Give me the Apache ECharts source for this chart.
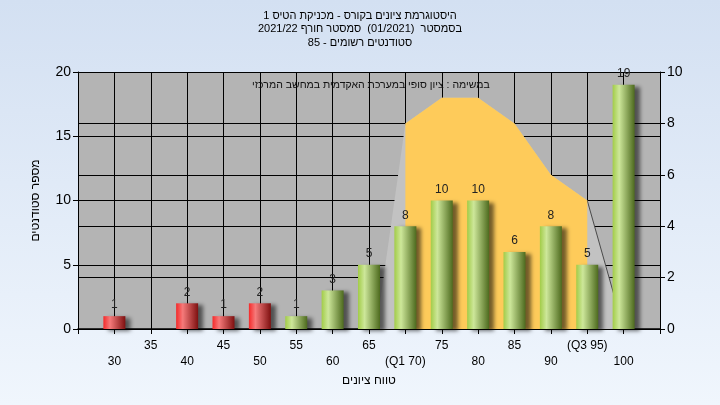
<!DOCTYPE html>
<html><head><meta charset="utf-8">
<script src="https://cdn.jsdelivr.net/npm/echarts@6/dist/echarts.min.js"></script>
<style>html,body{margin:0;padding:0;}#c{width:720px;height:405px;}</style>
</head><body><div id="c"></div>
<script>
const titleLines = ["היסטוגרמת ציונים בקורס - מכניקת הטיס 1", "בסמסטר  (01/2021)  סמסטר חורף 2021/22", "סטודנטים רשומים - 85"];
const noteText = "במשימה : ציון סופי במערכת האקדמית במחשב המרכזי";
const xTitle = "טווח ציונים";
const yTitle = "מספר סטודנטים";
const scores = [30,35,40,45,50,55,60,65,70,75,80,85,90,95,100];
const counts = [1,0,2,1,2,1,3,5,8,10,10,6,8,5,19];
const passMark = 55;
const q1 = 70, q3 = 95;
const bandX = [70,75,80,85,90,95];
const bandY = [8,9,9,8,6,5];
const tailStart = 66, tailEnd = 100;

const FONT = "'Liberation Sans','DejaVu Sans',sans-serif";

const grad = (c0,c1,c2) => ({type:'linear',x:0,y:0,x2:1,y2:0,colorStops:[
  {offset:0,color:c0},{offset:0.3,color:c1},{offset:1,color:c2}]});
const red = grad('#f42a2a','#f57a7a','#7e1010');
const green = grad('#a2cc48','#cde79a','#4d6a1e');

const barData = scores.map((s,i)=>({value:[s,counts[i]], itemStyle:{color: s<passMark?red:green}}));
const orange = [[bandX[0],0]].concat(bandX.map((x,i)=>[x,bandY[i]])).concat([[bandX[bandX.length-1],0]]);
const tail = [[tailStart,0]].concat(bandX.map((x,i)=>[x,bandY[i]])).concat([[tailEnd,0]]);
const edge = [[bandX[bandX.length-1],bandY[bandY.length-1]],[tailEnd,0]];

const chart = echarts.init(document.getElementById('c'));
chart.setOption({
  animation:false,
  backgroundColor:{type:'linear',x:0,y:0,x2:0,y2:1,colorStops:[{offset:0,color:'#d3e0f2'},{offset:1,color:'#f0f6fd'}]},
  title: titleLines.map((l,i)=>({text: l, left:'center', top:10 + i*13.5, padding:0,
      textStyle:{fontFamily:FONT,fontSize:11,fontWeight:'normal',color:'#000'}}))
    .concat([{text: noteText, left:252, top:80, padding:0,
      textStyle:{fontFamily:FONT,fontSize:10.5,fontWeight:'normal',color:'#111'}}]),
  grid:{left:78,right:60,top:72,bottom:76,show:true,backgroundColor:'#b4b4b4',borderWidth:0},
  xAxis:{type:'value',min:25,max:105,interval:5,
    name: xTitle, nameLocation:'middle', nameGap:46,
    nameTextStyle:{fontFamily:FONT,fontSize:12,color:'#000'},
    axisLine:{lineStyle:{color:'#000',width:1.5}},
    axisTick:{show:true,length:5,lineStyle:{color:'#000'}},
    splitLine:{show:true,lineStyle:{color:'#000',width:1}},
    axisLabel:{fontFamily:FONT,fontSize:12,color:'#000',margin:9,lineHeight:16,showMinLabel:true,showMaxLabel:true,
      formatter:v=>{
        if(scores.indexOf(v)<0) return '';
        let t = v===q1?'(Q1 '+v+')':(v===q3?'(Q3 '+v+')':String(v));
        return ((v-scores[0])/5)%2===0 ? '\n'+t : t;
      }}
  },
  yAxis:[
    {type:'value',min:0,max:20,interval:5,position:'left',
     name:yTitle,nameLocation:'middle',nameGap:36,nameRotate:90,
     nameTextStyle:{fontFamily:FONT,fontSize:12,color:'#000'},
     axisLine:{show:true,lineStyle:{color:'#000',width:1}},
     axisTick:{show:true,length:5,lineStyle:{color:'#000'}},
     splitLine:{show:true,lineStyle:{color:'#000',width:1}},
     axisLabel:{fontFamily:FONT,fontSize:14,color:'#000',margin:7}},
    {type:'value',min:0,max:10,interval:2,position:'right',
     axisLine:{show:true,lineStyle:{color:'#000',width:1}},
     axisTick:{show:true,length:5,lineStyle:{color:'#000'}},
     splitLine:{show:true,lineStyle:{color:'#000',width:1}},
     axisLabel:{fontFamily:FONT,fontSize:14,color:'#000',margin:7}}
  ],
  series:[
    {type:'line',yAxisIndex:1,data:tail,symbol:'none',lineStyle:{width:0},areaStyle:{color:'#c2c2c2',opacity:1},z:1},
    {type:'line',yAxisIndex:1,data:edge,symbol:'none',lineStyle:{width:1,color:'#4a4a4a'},z:1},
    {type:'line',yAxisIndex:1,data:orange,symbol:'none',lineStyle:{width:0},areaStyle:{color:'#fecb5a',opacity:1},z:2},
    {type:'bar',yAxisIndex:0,data:barData,barWidth:22,z:5,
     itemStyle:{shadowColor:'rgba(0,0,0,0.55)',shadowBlur:4,shadowOffsetX:5,shadowOffsetY:2},
     label:{show:true,position:'top',distance:5,fontFamily:FONT,fontSize:12,color:'#222',
       formatter:p=>p.value[1]>0?String(p.value[1]):''}}
  ]
});
</script></body></html>
